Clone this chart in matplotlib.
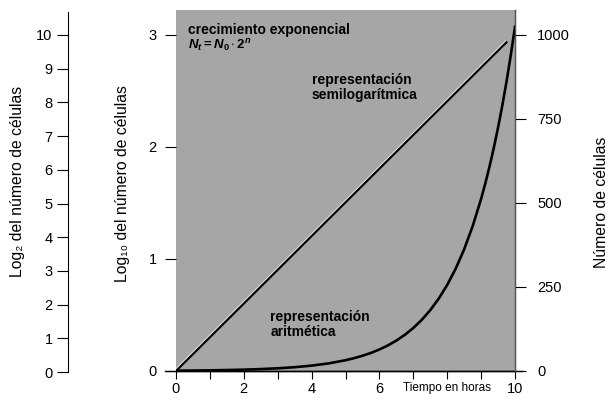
import matplotlib
matplotlib.use("Agg")
import matplotlib.pyplot as plt
import matplotlib.patheffects as pe
from matplotlib.lines import Line2D

plt.rcParams['font.family'] = ['Liberation Sans', 'DejaVu Sans']
plt.rcParams['mathtext.fontset'] = 'custom'
plt.rcParams['mathtext.it'] = 'Liberation Sans:bold:italic'
plt.rcParams['mathtext.rm'] = 'Liberation Sans:bold'

# data
hours = [0, 0.5, 1, 1.5, 2, 2.5, 3, 3.5, 4, 4.5, 5, 5.25, 5.5, 5.75, 6, 6.25,
         6.5, 6.75, 7, 7.25, 7.5, 7.75, 8, 8.25, 8.5, 8.75, 9, 9.125, 9.25,
         9.375, 9.5, 9.625, 9.75, 9.875, 10]
cells = [1, 1.4, 2, 2.8, 4, 5.7, 8, 11.3, 16, 22.6, 32, 38.1, 45.3, 53.8, 64,
         76.1, 90.5, 107.6, 128, 152.2, 181, 215.3, 256, 304.4, 362, 430.5,
         512, 558.4, 608.9, 664, 724.1, 789.6, 861.1, 939, 1024]
log_hours = [0, 9.75]
log10_cells = [0, 2.935]
x_ticks = [0, 1, 2, 3, 4, 5, 6, 7, 8, 9, 10]
x_labels = ['0', '', '2', '', '4', '', '6', '', 'Tiempo en horas', '', '10']
log10_ticks = [0, 1, 2, 3]
log2_ticks = [0, 1, 2, 3, 4, 5, 6, 7, 8, 9, 10]
cell_ticks = [0, 250, 500, 750, 1000]

W, H = 614, 399
fig = plt.figure(figsize=(W / 100, H / 100), dpi=100)

left, right, bottom, top = 176, 515, 371, 10
ax = fig.add_axes([left / W, 1 - bottom / H, (right - left) / W, (bottom - top) / H])
ax.set_facecolor('#a6a6a6')
ax.set_xlim(0, 10)
ax.set_ylim(0, 3.223)
for s in ['top', 'left']:
    ax.spines[s].set_visible(False)
ax.spines['right'].set_color('#555555')
ax.spines['right'].set_linewidth(1.0)
ax.spines['bottom'].set_linewidth(1.0)
ax.set_xticks(x_ticks)
ax.set_xticklabels(x_labels)
for lbl in ax.get_xticklabels():
    if lbl.get_text() == 'Tiempo en horas':
        lbl.set_fontsize(8.5)
    else:
        lbl.set_fontsize(10.5)
ax.tick_params(axis='x', direction='out', length=6, width=0.8, pad=2)
ax.set_yticks(log10_ticks)
ax.tick_params(axis='y', direction='out', length=8, width=0.8, labelsize=10.5, pad=6)
# extended x axis line
ax.add_line(Line2D([-0.032, 1.02], [0, 0], transform=ax.transAxes, color='black',
                   lw=1.0, clip_on=False))

ax.plot(log_hours, log10_cells, color='black', lw=1.5,
        path_effects=[pe.SimpleLineShadow(offset=(-0.7, 0.9), shadow_color='white', alpha=0.75,
                                          linewidth=0.7),
                      pe.Normal()])

ax2 = ax.twinx()
ax2.set_ylim(0, 1074)
for s in ['top', 'left', 'bottom']:
    ax2.spines[s].set_visible(False)
ax2.spines['right'].set_color('#555555')
ax2.set_yticks(cell_ticks)
ax2.tick_params(axis='y', direction='out', length=8, width=0.8, labelsize=10.5, pad=8)
ax2.plot(hours, cells, color='black', lw=1.9, clip_on=True)

# text annotations
ax.text(0.035, 0.965, 'crecimiento exponencial', transform=ax.transAxes, fontsize=10,
        fontweight='bold', va='top', ha='left')
ax.text(0.035, 0.922, r'$N_t = N_0 \cdot 2^n$', transform=ax.transAxes, fontsize=9.5,
        va='top', ha='left')
ax.text(0.40, 0.825, 'representación\nsemilogarítmica', transform=ax.transAxes,
        fontsize=10, fontweight='bold', va='top', ha='left', linespacing=1.1)
ax.text(0.278, 0.17, 'representación\naritmética', transform=ax.transAxes,
        fontsize=10, fontweight='bold', va='top', ha='left', linespacing=1.1)

# log2 axis
lx = 68
ax3 = fig.add_axes([lx / W, 1 - 372 / H, 0.0005, (372 - 12) / H])
ax3.set_facecolor('none')
for s in ['top', 'right', 'bottom']:
    ax3.spines[s].set_visible(False)
ax3.set_xticks([])
ax3.set_ylim(0, 10 * (372 - 12) / (372 - 35))
ax3.set_yticks(log2_ticks)
ax3.tick_params(axis='y', direction='out', length=8, width=0.8, labelsize=10.5, pad=3)

# axis titles (placed in figure pixels)
fig.text(18 / W, 1 - 181 / H, 'Log₂ del número de células', rotation=90,
         ha='center', va='center', fontsize=11.3)
fig.text(123 / W, 1 - 184 / H, 'Log₁₀ del número de células', rotation=90,
         ha='center', va='center', fontsize=11.3)
fig.text(602 / W, 1 - 202 / H, 'Número de células', rotation=90,
         ha='center', va='center', fontsize=11.3)

fig.savefig('out.png', dpi=100)
